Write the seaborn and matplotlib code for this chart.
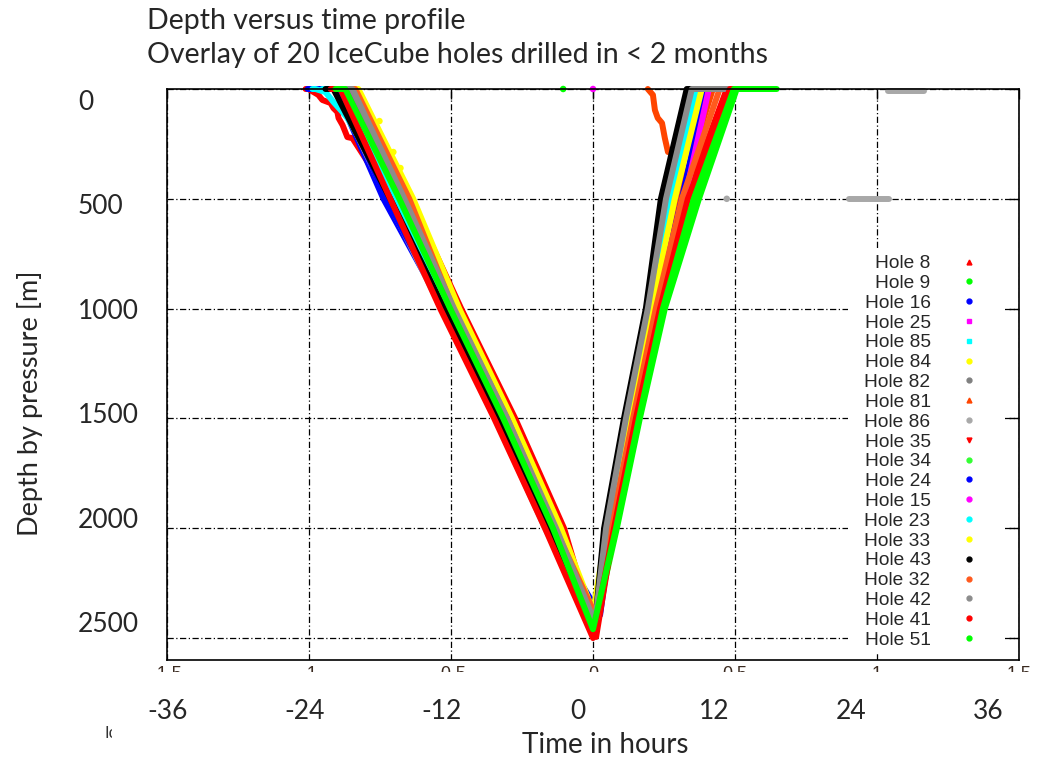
import numpy as np
import pandas as pd
import matplotlib
matplotlib.use("Agg")
import matplotlib.pyplot as plt
import seaborn as sns
from matplotlib.lines import Line2D
from matplotlib.patches import Rectangle

# ---------------- data (time in days relative to bottom, depth in m) ----------------
holes = ["Hole 8", "Hole 9", "Hole 16", "Hole 25", "Hole 85", "Hole 84", "Hole 82",
         "Hole 81", "Hole 86", "Hole 35", "Hole 34", "Hole 24", "Hole 15", "Hole 23",
         "Hole 33", "Hole 43", "Hole 32", "Hole 42", "Hole 41", "Hole 51"]
colors = ["#ff0000", "#00ff00", "#0000ff", "#ff00ff", "#00ffff", "#ffff00", "#808080",
          "#ff4500", "#a8a8a8", "#ff0000", "#33ff33", "#0000ff", "#ff00ff", "#00ffff",
          "#ffff00", "#000000", "#ff5a1e", "#8c8c8c", "#ff0000", "#00ff00"]
markers = ["^", "o", "o", "s", "s", "o", "o", "^", "o", "v",
           "o", "o", "o", "o", "o", "o", "o", "o", "o", "o"]

desc_depths = [0, 500, 1000, 1500, 2000]
asc_depths = [2000, 1500, 1000, 500, 0]

surface_start = [-1.012, -0.942, -1.005, -0.889, -0.988, -0.872, -0.924, -0.907, -0.924, -0.889,
                 -0.924, -0.914, -0.889, -0.953, -0.861, -0.942, -0.896, -0.889, -0.924, -0.907]
down_t = [
    [-1.002, -0.710, -0.527, -0.337, -0.162],
    [-0.879, -0.689, -0.506, -0.320, -0.144],
    [-0.907, -0.738, -0.527, -0.337, -0.158],
    [-0.868, -0.678, -0.503, -0.313, -0.137],
    [-0.977, -0.703, -0.517, -0.327, -0.151],
    [-0.830, -0.636, -0.475, -0.288, -0.120],
    [-0.900, -0.717, -0.531, -0.341, -0.165],
    [-0.840, -0.654, -0.489, -0.306, -0.134],
    [-0.907, -0.724, -0.534, -0.344, -0.169],
    [-0.854, -0.643, -0.464, -0.274, -0.102],
    [-0.875, -0.685, -0.503, -0.316, -0.141],
    [-0.896, -0.728, -0.524, -0.334, -0.158],
    [-0.865, -0.675, -0.499, -0.313, -0.137],
    [-0.882, -0.692, -0.510, -0.320, -0.144],
    [-0.826, -0.633, -0.471, -0.285, -0.113],
    [-0.914, -0.714, -0.524, -0.334, -0.158],
    [-0.837, -0.647, -0.492, -0.302, -0.134],
    [-0.847, -0.664, -0.489, -0.302, -0.130],
    [-0.889, -0.714, -0.538, -0.348, -0.169],
    [-0.872, -0.682, -0.503, -0.316, -0.141],
]
bottom_t = [0.004, 0.004, 0.025, 0.007, 0.007, 0.000, 0.007, 0.011, 0.007, 0.011,
            0.004, 0.014, 0.007, 0.007, 0.004, 0.007, 0.014, 0.007, 0.000, 0.000]
bottom_d = [2480, 2455, 2395, 2420, 2430, 2386, 2440, 2420, 2445, 2495,
            2450, 2400, 2410, 2430, 2390, 2440, 2410, 2430, 2500, 2460]
up_t = [
    [0.070, 0.148, 0.232, 0.327, 0.471],
    [0.084, 0.165, 0.253, 0.373, 0.506],
    [0.067, 0.137, 0.218, 0.316, 0.394],
    [0.067, 0.144, 0.225, 0.320, 0.404],
    [0.046, 0.119, 0.197, 0.271, 0.366],
    [0.049, 0.123, 0.204, 0.285, 0.376],
    [0.042, 0.112, 0.190, 0.250, 0.341],
    [0.056, 0.134, 0.214, 0.302, 0.422],
    [0.042, 0.116, 0.193, 0.253, 0.344],
    [0.074, 0.151, 0.236, 0.330, 0.475],
    [0.077, 0.158, 0.243, 0.351, 0.492],
    [0.063, 0.137, 0.218, 0.313, 0.397],
    [0.067, 0.144, 0.225, 0.323, 0.408],
    [0.049, 0.123, 0.200, 0.274, 0.369],
    [0.053, 0.127, 0.207, 0.288, 0.383],
    [0.039, 0.109, 0.186, 0.239, 0.330],
    [0.063, 0.141, 0.221, 0.313, 0.446],
    [0.046, 0.116, 0.193, 0.257, 0.348],
    [0.074, 0.151, 0.236, 0.334, 0.482],
    [0.081, 0.162, 0.246, 0.355, 0.496],
]
surface_end = [0.524, 0.647, 0.517, 0.517, 0.510, 0.510, 0.506, 0.517, 0.503, 0.524,
               0.534, 0.517, 0.517, 0.510, 0.510, 0.376, 0.524, 0.506, 0.527, 0.545]

# irregular upper parts of the descent
h8_top_t = [-0.967, -0.953, -0.924, -0.914, -0.900, -0.896, -0.882, -0.872, -0.865, -0.847]
h8_top_d = [27, 50, 64, 87, 105, 132, 164, 196, 219, 224]
h85_top_t = [-0.942, -0.914, -0.882, -0.865, -0.854]
h85_top_d = [14, 59, 105, 132, 155]

# extra stray segments
h81_drift_t = [0.264, 0.253, 0.243, 0.228, 0.218, 0.211, 0.193]
h81_drift_d = [287, 224, 155, 132, 96, 27, 0]
h86_stray1_t = [1.037, 1.167]
h86_stray1_d = [9, 9]
h86_stray2_t = [0.903, 1.044]
h86_stray2_d = [500, 500]

# isolated points
dot_hole = ["Hole 9", "Hole 25", "Hole 84", "Hole 84", "Hole 84", "Hole 84", "Hole 86"]
dot_t = [-0.105, 0.000, -0.752, -0.703, -0.678, -0.622, 0.471]
dot_d = [0, 0, 146, 287, 360, 543, 500]

day_ticks = [-1.5, -1.0, -0.5, 0.0, 0.5, 1.0, 1.5]
day_labels = ["-1.5", "-1", "-0.5", "0", "0.5", "1", "1.5"]
depth_ticks = [0, 500, 1000, 1500, 2000, 2500]
hour_ticks = [-36, -24, -12, 0, 12, 24, 36]

# ---------------- build long table ----------------
top_paths = {"Hole 8": (h8_top_t, h8_top_d), "Hole 85": (h85_top_t, h85_top_d)}
rows = []
for i, h in enumerate(holes):
    ts = [surface_start[i]]
    ds = [0]
    if h in top_paths:
        ts += [down_t[i][0]] + list(top_paths[h][0]) + down_t[i][1:]
        ds += [0] + list(top_paths[h][1]) + desc_depths[1:]
    else:
        ts += down_t[i]
        ds += desc_depths
    ts += [bottom_t[i]] + up_t[i] + [surface_end[i]]
    ds += [bottom_d[i]] + asc_depths + [0]
    for t, d in zip(ts, ds):
        rows.append((h, h + "-main", t, d))
for h, seg, tt, dd in [("Hole 81", "drift", h81_drift_t, h81_drift_d),
                       ("Hole 86", "s1", h86_stray1_t, h86_stray1_d),
                       ("Hole 86", "s2", h86_stray2_t, h86_stray2_d)]:
    for t, d in zip(tt, dd):
        rows.append((h, h + "-" + seg, t, d))
df = pd.DataFrame(rows, columns=["hole", "unit", "t", "depth"])
dots = pd.DataFrame({"hole": dot_hole, "t": dot_t, "depth": dot_d})
palette = dict(zip(holes, colors))

# ---------------- figure ----------------
sns.set_style("white")
plt.rcParams["font.family"] = ["Lato", "DejaVu Sans"]

W, H = 1043, 761
fig = plt.figure(figsize=(W / 100, H / 100), dpi=100)
ax = fig.add_axes([167 / W, 1 - 660 / H, 852 / W, 571 / H])

sns.lineplot(data=df, x="t", y="depth", hue="hole", hue_order=holes, palette=palette,
             units="unit", estimator=None, sort=False, linewidth=4.3, legend=False,
             ax=ax, solid_capstyle="round", solid_joinstyle="round")
sns.scatterplot(data=dots, x="t", y="depth", hue="hole", palette=palette, s=22,
                linewidth=0, legend=False, ax=ax)
for ln in ax.lines:
    ln.set_clip_on(False)
for c in ax.collections:
    c.set_clip_on(False)

ax.set_xlim(-1.5, 1.5)
ax.set_ylim(2600, 0)
ax.set_xticks(day_ticks, day_labels)
ax.set_yticks(depth_ticks)
ax.set_xlabel("")
ax.set_ylabel("")
ax.tick_params(direction="in", length=7, width=1, top=True, right=True,
               labelleft=False, color="black", pad=4)
for lab in ax.get_xticklabels():
    lab.set_fontfamily("Liberation Sans")
    lab.set_fontsize(13)
    lab.set_color("#3a2a20")
ax.set_axisbelow(True)
ax.grid(True, color="black", linewidth=0.9, linestyle=(0, (5, 2, 1, 2)))
for sp in ax.spines.values():
    sp.set_linewidth(1.2)
    sp.set_color("black")

# opaque key area
ax.add_patch(Rectangle((0.799, 0.014), 0.185, 0.704, transform=ax.transAxes,
                       facecolor="white", edgecolor="none", zorder=3))
handles = [Line2D([], [], linestyle="none", marker=m, color=c, markersize=3.5)
           for m, c in zip(markers, colors)]
leg = ax.legend(handles, holes, loc="upper right", bbox_to_anchor=(1000 / W, 1 - 251 / H),
                bbox_transform=fig.transFigure, frameon=False, markerfirst=False,
                handlelength=2.8, handletextpad=0.62, labelspacing=0.125, borderpad=0.2,
                borderaxespad=0, prop={"family": "Liberation Sans", "size": 13.8})
leg.set_zorder(6)

# slide overlay: white box cutting the gnuplot tick labels
fig.text(104 / W, 1 - 733 / H, "IceCube", fontsize=12, family="Liberation Sans",
         color="#333333", va="center", ha="left", zorder=4)
fig.add_artist(Rectangle((112 / W, 0), 1 - 112 / W, 1 - 672 / H, transform=fig.transFigure,
                         facecolor="white", edgecolor="none", zorder=10))

# hours axis overlay
ax_h = fig.add_axes([168 / W, 1 - 699 / H, 820 / W, 0.001])
ax_h.set_zorder(20)
ax_h.patch.set_visible(False)
for sp in ax_h.spines.values():
    sp.set_visible(False)
ax_h.set_xlim(-36, 36)
ax_h.set_xticks(hour_ticks, [str(v) for v in hour_ticks])
ax_h.set_yticks([])
ax_h.tick_params(axis="x", length=0, pad=0, labelsize=19)

# depth labels overlay
ax_d = fig.add_axes([78 / W, 1 - 622 / H, 0.001, 522 / H])
ax_d.set_zorder(20)
ax_d.patch.set_visible(False)
for sp in ax_d.spines.values():
    sp.set_visible(False)
ax_d.set_ylim(2500, 0)
ax_d.set_yticks(depth_ticks, [str(v) for v in depth_ticks])
ax_d.set_xticks([])
ax_d.tick_params(axis="y", length=0, pad=0, labelsize=19)
for lab in ax_d.get_yticklabels():
    lab.set_horizontalalignment("left")

# titles and axis labels
fig.text(147 / W, 1 - 21 / H, "Depth versus time profile", fontsize=20.5, va="center",
         ha="left", zorder=30)
fig.text(147 / W, 1 - 55 / H, "Overlay of 20 IceCube holes drilled in < 2 months",
         fontsize=20.5, va="center", ha="left", zorder=30)
fig.text(605 / W, 1 - 745 / H, "Time in hours", fontsize=20, va="center", ha="center",
         zorder=30)
fig.text(30 / W, 1 - 403 / H, "Depth by pressure [m]", fontsize=19.5, va="center",
         ha="center", rotation=90, zorder=30)

fig.savefig("out.png", dpi=100)
